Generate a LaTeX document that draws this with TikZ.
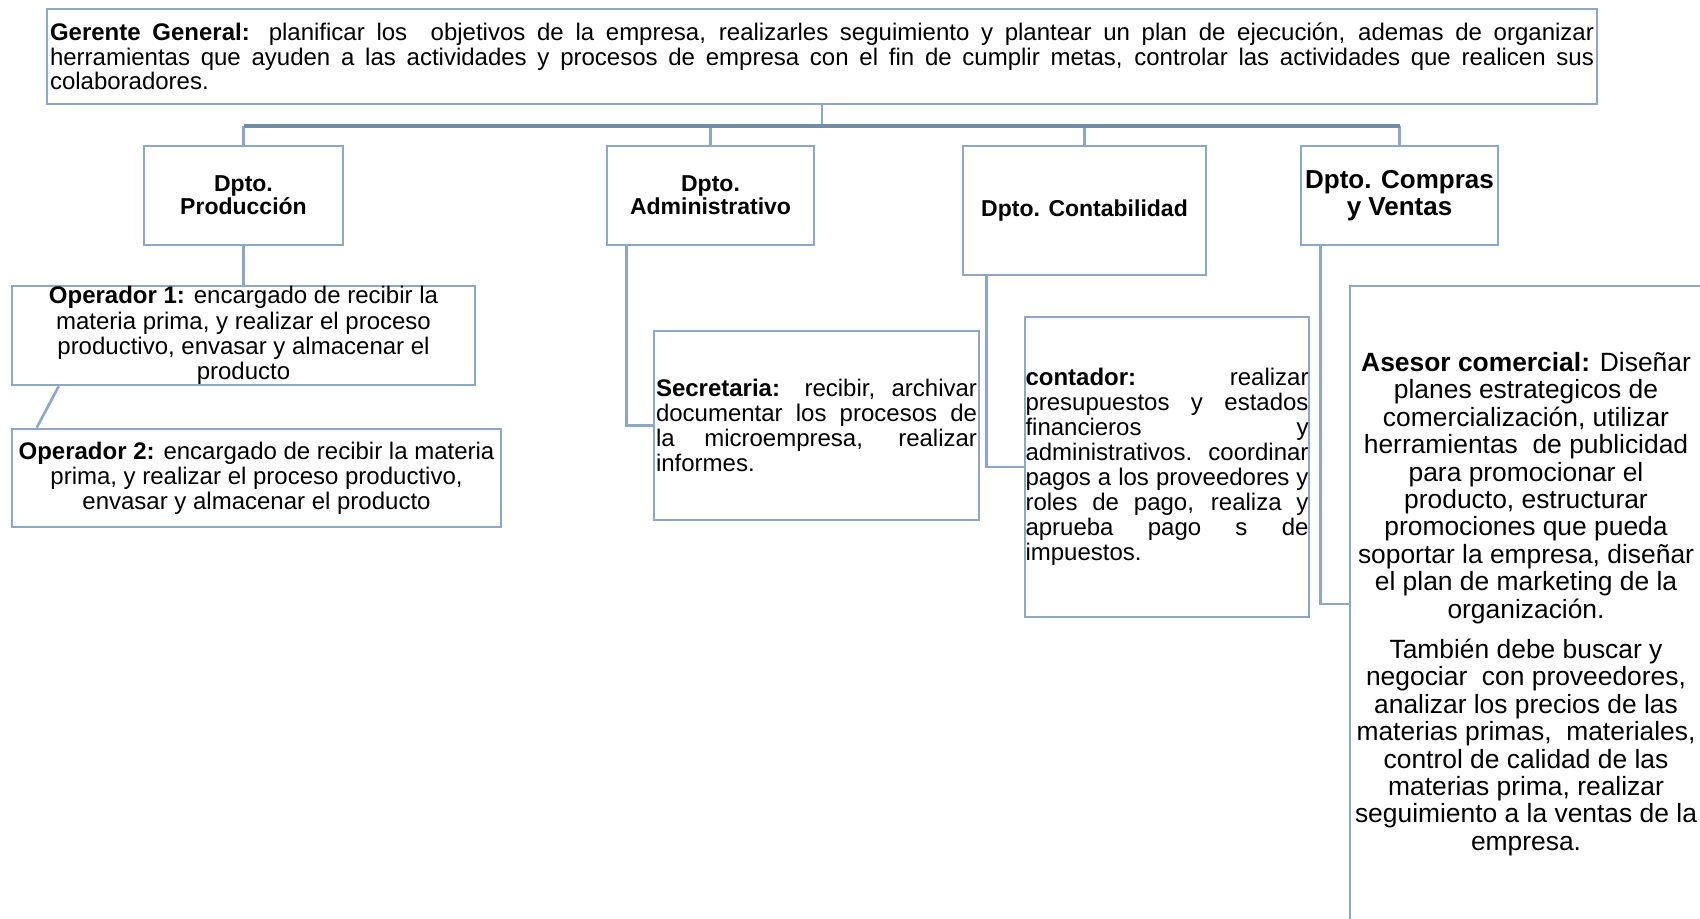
\documentclass[tikz,border=0pt]{standalone}
\usepackage{fontspec}
\setmainfont{Liberation Sans}
\usetikzlibrary{calc}
\definecolor{boxc}{RGB}{140,168,198}
\definecolor{barc}{RGB}{112,140,170}
\begin{document}
\begin{tikzpicture}[x=0.5pt,y=-0.5pt,
  box/.style={draw=boxc,line width=1.3pt,inner sep=0pt,fill=white},
  txt/.style={inner sep=0pt,font=\fontsize{12}{12.5}\selectfont},
  hdr/.style={inner sep=0pt,align=center,font=\fontsize{11.5}{11.5}\selectfont\bfseries},
  link/.style={draw=boxc,line width=1.3pt},
  barline/.style={draw=barc,line width=1.8pt},
]
\useasboundingbox (0,0) rectangle (1700,918);

% boxes
\node[box,minimum width=775pt,minimum height=47.5pt] (ger) at (822,56.5) {};
\node[box,minimum width=99.5pt,minimum height=49.5pt] (prod) at (243.5,195.5) {};
\node[box,minimum width=103.5pt,minimum height=49.5pt] (adm) at (710.5,195.5) {};
\node[box,minimum width=121.5pt,minimum height=64.5pt] (cdep) at (1084.5,210.5) {};
\node[box,minimum width=98.5pt,minimum height=49.5pt] (comp) at (1399.5,195.5) {};
\node[box,minimum width=231.5pt,minimum height=49.5pt] (op1) at (243.5,335.5) {};
\node[box,minimum width=244.5pt,minimum height=49pt] (op2) at (256.5,478) {};
\node[box,minimum width=162.5pt,minimum height=94.5pt] (sec) at (816.5,425.5) {};
\node[box,minimum width=142pt,minimum height=150pt] (cont) at (1167,467) {};
\node[box,minimum width=177pt,minimum height=318pt] (ases) at (1527,604) {};

% connectors
\coordinate (hb) at (822,126);
\draw[link] (ger.south) -- (ger.south |- hb);
\draw[link] (prod.north) -- (prod.north |- hb);
\draw[link] (adm.north) -- (adm.north |- hb);
\draw[link] (cdep.north) -- (cdep.north |- hb);
\draw[link] (comp.north) -- (comp.north |- hb);
\draw[barline] (prod.north |- hb) -- (comp.north |- hb);
\draw[link] (prod.south) -- (op1.north);
\draw[link] ($(op1.south west)+(48,0)$) -- ($(op2.north west)+(26,0)$);
\draw[link] ($(adm.south west)+(21,0)$) |- (sec.west);
\draw[link] ($(cdep.south west)+(25,0)$) |- (cont.west);
\draw[link] ($(comp.south west)+(21,0)$) |- (ases.west);

% texts
\node[txt,text width=772pt,align=justify,font=\fontsize{12}{12.2}\selectfont] (gert) at (ger) {\textbf{Gerente General:} planificar los\ \ objetivos de la empresa, realizarles seguimiento y plantear un plan de ejecución, ademas de organizar\linebreak herramientas que ayuden a las actividades y procesos de empresa con el fin de cumplir metas, controlar las actividades que realicen sus\linebreak colaboradores.};
\node[hdr] (prodt) at (prod) {Dpto.\\Producción};
\node[hdr] (admt) at (adm) {Dpto.\\Administrativo};
\node[hdr] (cdept) at (cdep) {Dpto. Contabilidad};
\node[hdr,font=\fontsize{13}{13.5}\selectfont\bfseries] (compt) at (comp) {Dpto. Compras\\y Ventas};
\node[txt,align=center,font=\fontsize{12}{12.6}\selectfont] (op1t) at (op1) {\textbf{Operador 1:} encargado de recibir la\\materia prima, y realizar el proceso\\productivo, envasar y almacenar el\\producto};
\node[txt,align=center,font=\fontsize{12}{12.6}\selectfont] (op2t) at (op2) {\textbf{Operador 2:} encargado de recibir la materia\\prima, y realizar el proceso productivo,\\envasar y almacenar el producto};
\node[txt,text width=160.5pt,align=justify] (sect) at (sec) {\textbf{Secretaria:} recibir, archivar\linebreak documentar los procesos de\linebreak la microempresa, realizar\linebreak informes.};
\node[txt,text width=141.5pt,align=justify] (contt) at (cont) {\textbf{contador:} realizar\linebreak presupuestos y estados\linebreak financieros y\linebreak administrativos. coordinar\linebreak pagos a los proveedores y\linebreak roles de pago, realiza y\linebreak aprueba pago s de\linebreak impuestos.};
\node[txt,align=center,font=\fontsize{13.2}{13.7}\selectfont] (asest) at (1526,604) {\textbf{Asesor comercial:} Diseñar\\planes estrategicos de\\comercialización, utilizar\\herramientas\ \ de publicidad\\para promocionar el\\producto, estructurar\\promociones que pueda\\soportar la empresa, diseñar\\el plan de marketing de la\\organización.\\[6.5pt]También debe buscar y\\negociar\ \ con proveedores,\\analizar los precios de las\\materias primas,\ \ materiales,\\control de calidad de las\\materias prima, realizar\\seguimiento a la ventas de la\\empresa.};
\end{tikzpicture}
\end{document}
